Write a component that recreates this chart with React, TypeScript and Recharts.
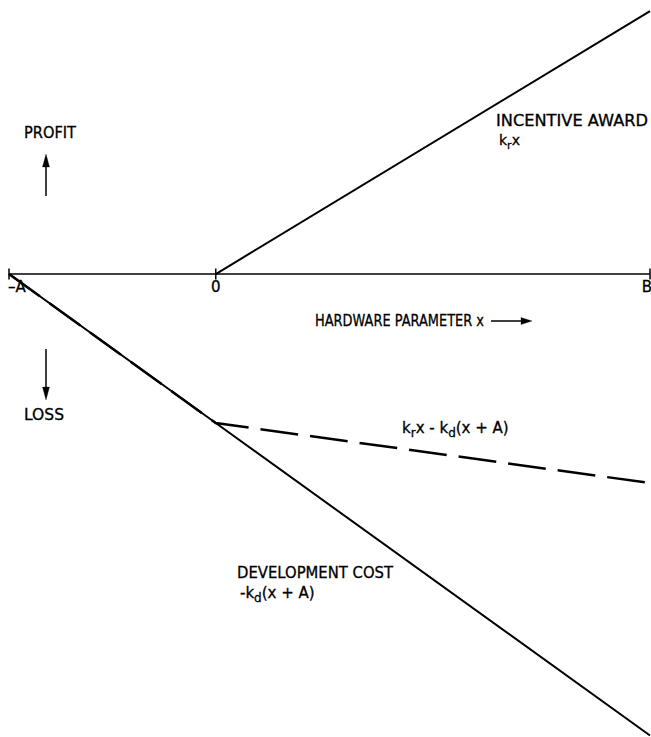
import { LineChart, Line, XAxis, YAxis, ReferenceLine, ReferenceDot } from 'recharts'

// x positions: -A, 0, B  (A = 1)
const xValues = [-1, 0, 2.1]
const tickLabels = ['–A', '0', 'B']
const tickShift = [8, 0, -3]

// series (same units as x)
const incentiveAward = [null, 0, 1.27]
const developmentCost = [0, -0.72, -2.23]
const netResult = [0, -0.72, -1.01]

const data = xValues.map((x, i) => ({
  x,
  incentive: incentiveAward[i],
  devCost: developmentCost[i],
  net: netResult[i],
}))

const font = '"DejaVu Sans", sans-serif'

export default function App() {
  return (
    <div style={{ position: 'absolute', left: 0, top: 0, width: 651, height: 737, background: '#fff' }}>
      <LineChart width={651} height={737} data={data} margin={{ top: 0, right: 1, bottom: 0, left: 9 }}>
        <XAxis type="number" dataKey="x" domain={[-1, 2.1]} hide />
        <YAxis type="number" domain={[-2.237, 1.324]} hide />
        <ReferenceLine y={0} stroke="#000" strokeWidth={1.5} />
        {xValues.map((x, i) => (
          <ReferenceLine
            key={'t' + i}
            segment={[{ x, y: -0.027 }, { x, y: 0.027 }]}
            stroke="#000"
            strokeWidth={1.5}
          />
        ))}
        {xValues.map((x, i) => (
          <ReferenceDot
            key={'l' + i}
            x={x}
            y={0}
            r={1}
            fill="none"
            stroke="none"
            label={(p: any) => (
              <text
                x={p.viewBox.x + p.viewBox.width / 2 + tickShift[i]}
                y={p.viewBox.y + 19}
                textAnchor="middle"
                fontFamily={font}
                fontSize={15}
                fill="#000"
                stroke="#000"
                strokeWidth={0.3}
              >
                {tickLabels[i]}
              </text>
            )}
          />
        ))}
        <Line dataKey="devCost" stroke="#000" strokeWidth={2} dot={false} isAnimationActive={false} />
        <Line dataKey="incentive" stroke="#000" strokeWidth={2} dot={false} isAnimationActive={false} />
        <Line
          dataKey="net"
          stroke="#000"
          strokeWidth={2.5}
          strokeDasharray="38 12"
          dot={false}
          isAnimationActive={false}
        />
      </LineChart>
      <svg
        width={651}
        height={737}
        style={{ position: 'absolute', left: 0, top: 0, pointerEvents: 'none' }}
        fontFamily={font}
        fontSize={15}
        fill="#000"
        stroke="#000"
        strokeWidth={0.3}
      >
        <text x={24} y={138} textLength={52} lengthAdjust="spacingAndGlyphs">PROFIT</text>
        <line x1={46} y1={196} x2={46} y2={162} strokeWidth={1.5} />
        <polygon points="46,154 42.5,167 49.5,167" />
        <text x={24} y={420} textLength={40} lengthAdjust="spacingAndGlyphs">LOSS</text>
        <line x1={46} y1={349} x2={46} y2={392} strokeWidth={1.5} />
        <polygon points="46,400 42.5,387 49.5,387" />

        <text x={315} y={326} textLength={169} lengthAdjust="spacingAndGlyphs">HARDWARE PARAMETER x</text>
        <line x1={491} y1={321} x2={525} y2={321} strokeWidth={1.5} />
        <polygon points="532,321 521,317.5 521,324.5" />

        <text x={496} y={126} textLength={152} lengthAdjust="spacingAndGlyphs">INCENTIVE AWARD</text>
        <text x={499} y={145} fontSize={14}>
          k<tspan fontSize={11} dy={4}>r</tspan>
          <tspan dy={-4}>x</tspan>
        </text>

        <text x={402} y={433}>
          k<tspan fontSize={12} dy={4}>r</tspan>
          <tspan dy={-4}>x - k</tspan>
          <tspan fontSize={12} dy={4}>d</tspan>
          <tspan dy={-4}>(x + A)</tspan>
        </text>

        <text x={237} y={578} textLength={156} lengthAdjust="spacingAndGlyphs">DEVELOPMENT COST</text>
        <text x={240} y={598}>
          -k<tspan fontSize={12} dy={4}>d</tspan>
          <tspan dy={-4}>(x + A)</tspan>
        </text>
      </svg>
    </div>
  )
}
